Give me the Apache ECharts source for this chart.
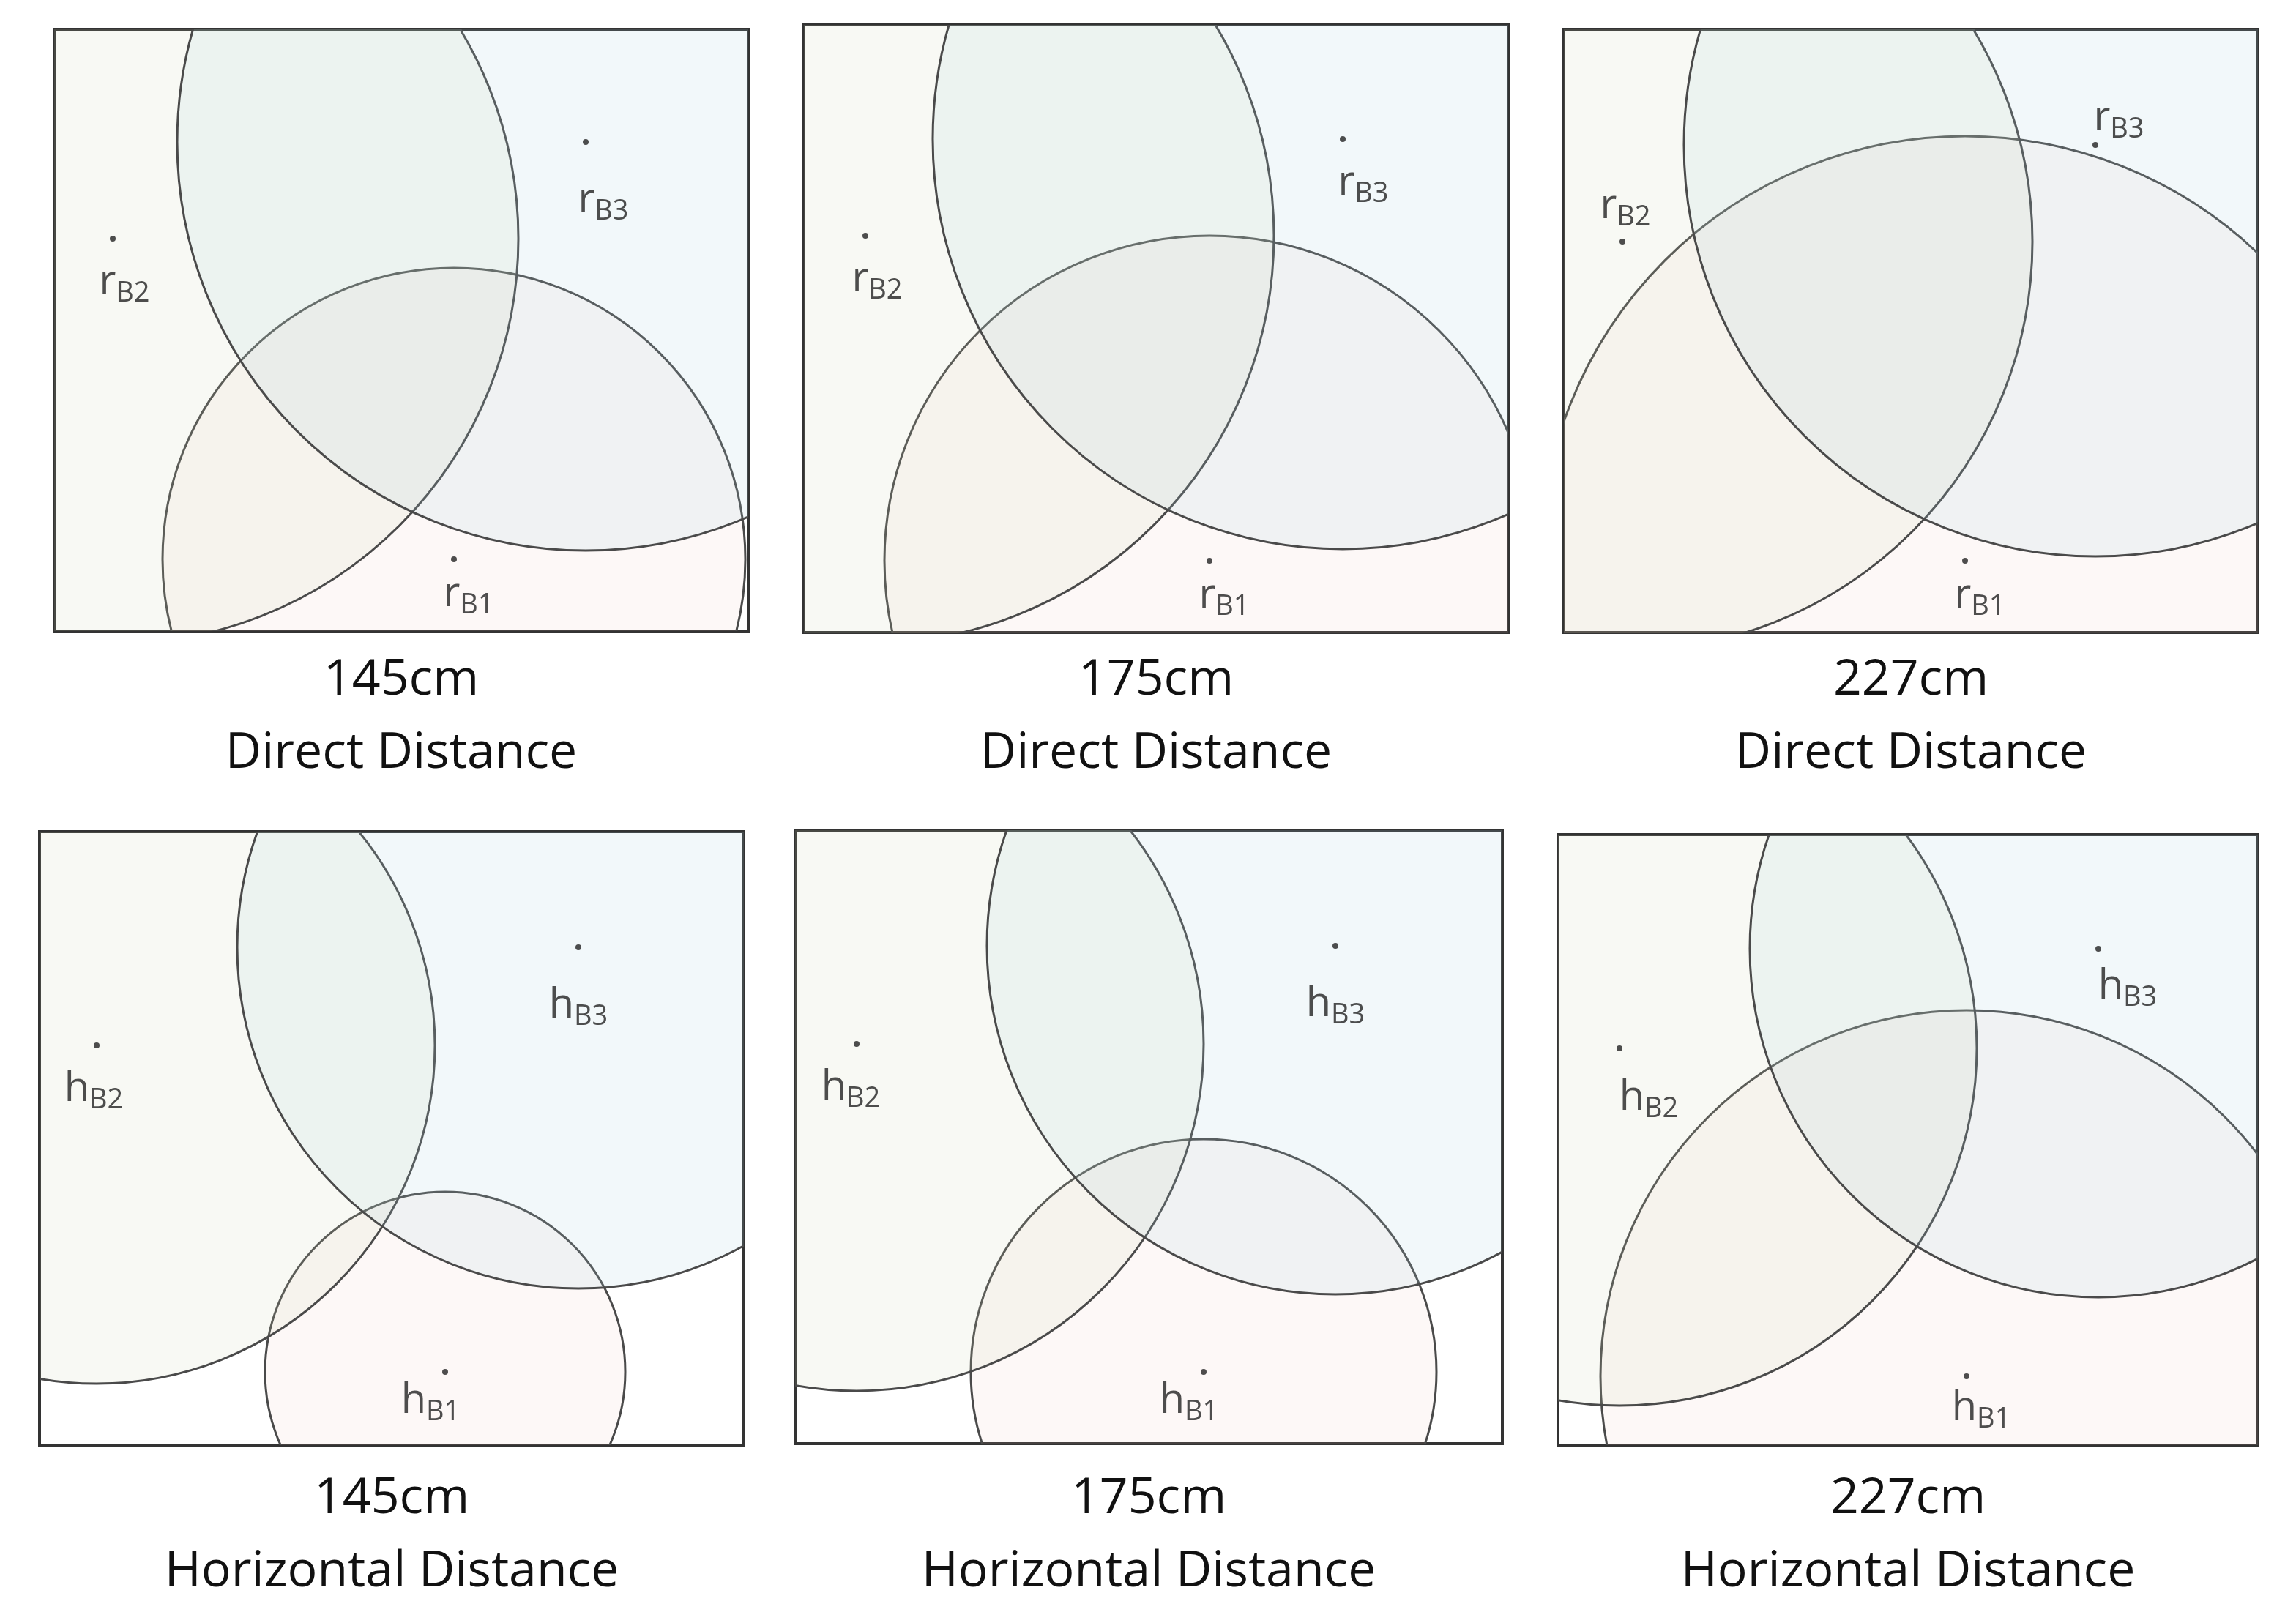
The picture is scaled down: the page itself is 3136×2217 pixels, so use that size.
<!DOCTYPE html>
<html><head><meta charset="utf-8">
<script src="https://cdn.jsdelivr.net/npm/echarts@6/dist/echarts.min.js"></script>
<style>html,body{margin:0;padding:0;background:#fff}#c{width:3136px;height:2217px}</style>
</head><body><div id="c"></div>
<script>
// Panel data (units: reference half-scale pixels relative to panel box)
const titlesTop = ['145cm','175cm','227cm','145cm','175cm','227cm'];
const titlesBottom = ['Direct Distance','Direct Distance','Direct Distance','Horizontal Distance','Horizontal Distance','Horizontal Distance'];
const prefixes = ['r','r','r','h','h','h'];
const beaconNames = ['B1','B2','B3'];
// beacon centres [x,y] per panel, order B1,B2,B3
const centers = [
  [[273,362],[40,143],[363,77]],
  [[277,366],[42,144],[368,78]],
  [[274,363],[40,145],[363,79]],
  [[277,369],[39,146],[368,79]],
  [[279,370],[42,146],[369,79]],
  [[279,370],[42,146],[369,78]]
];
// ranging radius per panel, order B1,B2,B3
const radii = [
  [199,277,279],
  [222,279,280],
  [290,280,281],
  [123,231,233],
  [159,237,238],
  [250,244,238]
];
// layout (not data)
const boxes = [[37,20,474,411],[549,17,481,415],[1068,20,474,412],[27,568,481,419],[543,567,483,419],[1064,570,478,417]];
const labelOffsets = [
  [[10,24],[8,30],[12,40]],
  [[10,24],[8,30],[14,30]],
  [[10,24],[2,-24],[16,-18]],
  [[-10,20],[-2,30],[0,40]],
  [[-10,20],[-4,30],[0,40]],
  [[10,22],[20,34],[20,26]]
];
const fills = ['rgba(235,195,180,0.11)','rgba(205,215,175,0.14)','rgba(170,205,220,0.15)'];
const S = 2;

const grid=[],xAxis=[],yAxis=[],series=[],graphic=[];
boxes.forEach((b,i)=>{
  grid.push({left:b[0]*S,top:b[1]*S,width:b[2]*S,height:b[3]*S,show:true,borderColor:'#333',borderWidth:4,backgroundColor:'#fff',containLabel:false});
  xAxis.push({gridIndex:i,type:'value',min:0,max:b[2],show:false});
  yAxis.push({gridIndex:i,type:'value',min:0,max:b[3],inverse:true,show:false});
  const cdata = centers[i].map((c,k)=>[c[0],c[1],radii[i][k],k]);
  series.push({type:'custom',xAxisIndex:i,yAxisIndex:i,clip:true,data:cdata,
    renderItem:(params,api)=>{
      const p=api.coord([api.value(0),api.value(1)]);
      const s=api.size([api.value(2),api.value(2)]);
      return {type:'circle',shape:{cx:p[0],cy:p[1],r:s[0]},
        style:{fill:fills[api.value(3)],stroke:'#4a4a4a',lineWidth:3}};
    }});
  series.push({type:'scatter',xAxisIndex:i,yAxisIndex:i,symbolSize:8,itemStyle:{color:'#222'},
    data:centers[i].map((c,k)=>({value:c,label:{show:true,position:'inside',
      offset:[labelOffsets[i][k][0]*S,labelOffsets[i][k][1]*S],
      formatter:'{m|'+prefixes[i]+'}{s|'+beaconNames[k]+'}',
      rich:{m:{fontSize:56,color:'#222',fontFamily:'Open Sans'},s:{fontSize:38,color:'#222',fontFamily:'Open Sans',padding:[30,0,0,0]}}}})),
    z:5});
  const cx=(b[0]+b[2]/2)*S;
  const ty=(i<3?467:1026)*S;
  graphic.push({type:'text',x:cx,y:ty-38,style:{text:titlesTop[i],fontSize:68,fill:'#111',fontFamily:'Open Sans',textAlign:'center'}});
  graphic.push({type:'text',x:cx,y:ty+62,style:{text:titlesBottom[i],fontSize:68,fill:'#111',fontFamily:'Open Sans',textAlign:'center'}});
});
const chart=echarts.init(document.getElementById('c'));
chart.setOption({animation:false,grid,xAxis,yAxis,series,graphic});
</script></body></html>
